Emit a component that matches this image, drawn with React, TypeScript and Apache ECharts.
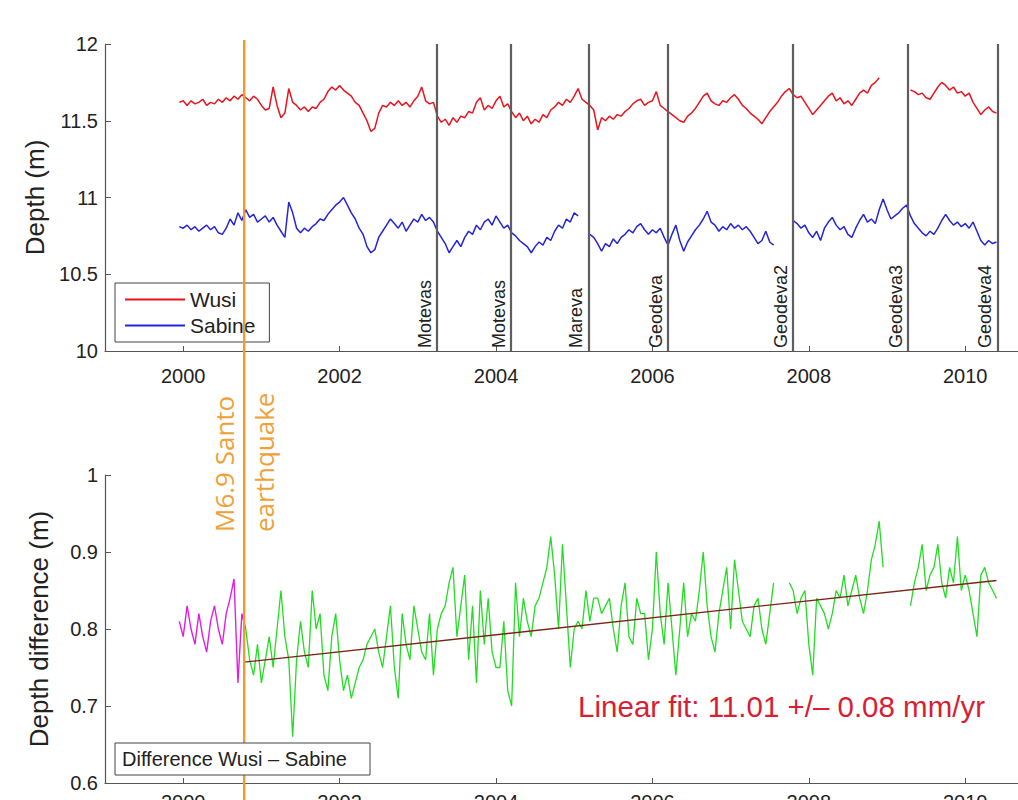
import React, { useEffect, useRef } from "react";
import * as echarts from "echarts";

// ---------- data ----------
const START = 1999.95;
const STEP = 0.05;

// Wusi water depth (m), every 0.05 yr from 1999.95 to 2010.40
const wusi = [
  11.62, 11.63,
  11.60, 11.63, 11.61, 11.62, 11.64, 11.60, 11.62, 11.61, 11.64, 11.62, 11.65, 11.63, 11.66, 11.64, 11.67, 11.65, 11.63, 11.66, 11.64,
  11.60, 11.57, 11.58, 11.72, 11.60, 11.52, 11.55, 11.71, 11.62, 11.60, 11.57, 11.59, 11.56, 11.59, 11.58, 11.62, 11.64, 11.69, 11.72, 11.70,
  11.73, 11.70, 11.68, 11.66, 11.62, 11.60, 11.55, 11.50, 11.43, 11.45, 11.55, 11.60, 11.59, 11.62, 11.60, 11.63, 11.60, 11.62, 11.59, 11.63,
  11.66, 11.72, 11.63, 11.61, 11.62, 11.53, 11.49, 11.51, 11.47, 11.52, 11.49, 11.53, 11.52, 11.56, 11.55, 11.62, 11.65, 11.57, 11.60, 11.58,
  11.63, 11.66, 11.59, 11.61, 11.56, 11.52, 11.55, 11.50, 11.53, 11.48, 11.51, 11.49, 11.54, 11.52, 11.57, 11.59, 11.62, 11.60, 11.64, 11.62,
  11.66, 11.71, 11.64, 11.62, 11.60, 11.57, 11.44, 11.52, 11.50, 11.53, 11.51, 11.54, 11.53, 11.56, 11.58, 11.61, 11.63, 11.64, 11.60, 11.62,
  11.63, 11.69, 11.60, 11.58, 11.56, 11.54, 11.52, 11.50, 11.49, 11.53, 11.55, 11.58, 11.62, 11.66, 11.68, 11.63, 11.61, 11.60, 11.63, 11.62,
  11.65, 11.67, 11.64, 11.60, 11.58, 11.55, 11.53, 11.51, 11.48, 11.52, 11.56, 11.59, 11.62, 11.66, 11.69, 11.71, 11.67, 11.65, 11.66, 11.62,
  11.58, 11.54, 11.57, 11.60, 11.63, 11.66, 11.68, 11.63, 11.65, 11.61, 11.63, 11.60, 11.64, 11.68, 11.70, 11.68, 11.73, 11.75, 11.78, null,
  null, null, null, null, null, null, 11.70, 11.69, 11.67, 11.68, 11.65, 11.64, 11.68, 11.72, 11.75, 11.73, 11.70, 11.72, 11.68, 11.69,
  11.66, 11.68, 11.62, 11.58, 11.54, 11.57, 11.59, 11.56, 11.55,
];

// Sabine water depth (m), same time steps
const sabine = [
  10.81, 10.80,
  10.82, 10.79, 10.81, 10.78, 10.80, 10.82, 10.79, 10.81, 10.77, 10.76, 10.80, 10.86, 10.82, 10.90, 10.85, 10.92, 10.87, 10.89, 10.84,
  10.86, 10.88, 10.84, 10.87, 10.82, 10.78, 10.74, 10.97, 10.90, 10.80, 10.77, 10.80, 10.78, 10.81, 10.83, 10.86, 10.85, 10.89, 10.92, 10.95,
  10.97, 11.00, 10.95, 10.90, 10.86, 10.80, 10.76, 10.68, 10.64, 10.66, 10.74, 10.78, 10.82, 10.86, 10.83, 10.80, 10.84, 10.78, 10.82, 10.86,
  10.84, 10.89, 10.85, 10.87, 10.84, 10.78, 10.74, 10.70, 10.64, 10.68, 10.72, 10.68, 10.74, 10.78, 10.76, 10.82, 10.79, 10.84, 10.86, 10.82,
  10.88, 10.84, 10.80, 10.82, 10.77, 10.75, 10.72, 10.70, 10.68, 10.64, 10.68, 10.71, 10.69, 10.74, 10.72, 10.78, 10.82, 10.80, 10.86, 10.84,
  10.90, 10.88, null, null, 10.76, 10.74, 10.70, 10.65, 10.70, 10.68, 10.73, 10.70, 10.74, 10.76, 10.79, 10.77, 10.81, 10.83, 10.79, 10.76,
  10.79, 10.77, 10.80, 10.74, 10.69, 10.76, 10.82, 10.72, 10.65, 10.71, 10.75, 10.79, 10.82, 10.86, 10.91, 10.84, 10.82, 10.78, 10.81, 10.79,
  10.83, 10.80, 10.82, 10.79, 10.81, 10.78, 10.74, 10.70, 10.72, 10.78, 10.71, 10.69, null, null, null, null, 10.85, 10.83, 10.80, 10.82,
  10.77, 10.74, 10.78, 10.72, 10.80, 10.84, 10.87, 10.82, 10.79, 10.81, 10.76, 10.74, 10.80, 10.85, 10.89, 10.84, 10.86, 10.83, 10.92, 10.99,
  10.92, 10.86, 10.88, 10.90, 10.93, 10.95, 10.88, 10.83, 10.80, 10.77, 10.75, 10.78, 10.76, 10.80, 10.85, 10.89, 10.85, 10.82, 10.84, 10.81,
  10.83, 10.80, 10.84, 10.78, 10.72, 10.69, 10.72, 10.70, 10.71,
];

// Difference Wusi - Sabine (m) before the earthquake, from 1999.95 to 2000.80
const diffBefore = [
  0.81, 0.79, 0.83, 0.80, 0.78, 0.82, 0.79, 0.77, 0.81, 0.83, 0.80, 0.78, 0.82, 0.84, 0.865, 0.73, 0.82, 0.80,
];

// Difference after the earthquake, from 2000.80 to 2010.40
const AFTER_START = 2000.8;
const diffAfter = [
  0.80, 0.76, 0.74, 0.78, 0.73, 0.76, 0.79, 0.75, 0.80, 0.85, 0.79, 0.76, 0.66, 0.76, 0.81, 0.77, 0.75, 0.85, 0.80, 0.82,
  0.74, 0.72, 0.79, 0.82, 0.76, 0.72, 0.74, 0.71, 0.73, 0.75, 0.76, 0.78, 0.79, 0.80, 0.77, 0.75, 0.79, 0.83, 0.75, 0.71,
  0.82, 0.78, 0.76, 0.83, 0.80, 0.77, 0.76, 0.82, 0.74, 0.80, 0.82, 0.83, 0.86, 0.88, 0.79, 0.83, 0.87, 0.76, 0.83, 0.73,
  0.85, 0.78, 0.84, 0.77, 0.75, 0.75, 0.81, 0.72, 0.70, 0.86, 0.79, 0.84, 0.81, 0.79, 0.83, 0.84, 0.86, 0.88, 0.92, 0.87,
  0.80, 0.91, 0.83, 0.75, 0.80, 0.81, 0.80, 0.85, 0.81, 0.84, 0.84, 0.82, 0.83, 0.84, 0.80, 0.77, 0.83, 0.86, 0.79, 0.78,
  0.84, 0.82, 0.82, 0.76, 0.80, 0.90, 0.82, 0.78, 0.86, 0.80, 0.74, 0.80, 0.86, 0.79, 0.82, 0.81, 0.85, 0.90, 0.83, 0.79,
  0.77, 0.82, 0.85, 0.88, 0.80, 0.89, 0.85, 0.81, 0.80, 0.79, 0.83, 0.84, 0.80, 0.78, 0.82, 0.86, null, null, null, 0.86,
  0.85, 0.82, 0.84, 0.85, 0.78, 0.74, 0.84, 0.83, 0.82, 0.80, 0.82, 0.85, 0.84, 0.87, 0.83, 0.85, 0.87, 0.84, 0.82, 0.85,
  0.89, 0.91, 0.94, 0.88, null, null, null, null, null, null, 0.83, 0.86, 0.88, 0.91, 0.85, 0.87, 0.88, 0.91, 0.86, 0.84,
  0.88, 0.86, 0.92, 0.85, 0.87, 0.85, 0.82, 0.79, 0.87, 0.88, 0.86, 0.85, 0.84,
];

// Linear fit end points
const fitYears = [2000.78, 2010.4];
const fitValues = [0.757, 0.863];

const quakeYear = 2000.78;
const instrumentYears = [2003.24, 2004.19, 2005.18, 2006.2, 2007.8, 2009.27, 2010.41];
const instrumentLabels = ["Motevas", "Motevas", "Mareva", "Geodeva", "Geodeva2", "Geodeva3", "Geodeva4"];

const xTickValues = [2000, 2002, 2004, 2006, 2008, 2010];
const topYTicks = { min: 10, max: 12, interval: 0.5 };
const bottomYTicks = { min: 0.6, max: 1, interval: 0.1 };

const FONT = "'Liberation Sans', Arial, Helvetica, sans-serif";
const ANNOT_FONT = "'Open Sans', 'Liberation Sans', sans-serif";

function toPairs(start: number, values: (number | null)[]) {
  return values.map((v, i) => [+(start + i * STEP).toFixed(2), v]);
}

export default function App() {
  const ref = useRef<HTMLDivElement>(null);

  useEffect(() => {
    if (!ref.current) return;
    const chart = echarts.init(ref.current, null, { renderer: "svg" });

    const axisColor = "#555";
    const xAxisBase = (gridIndex: number, margin: number) => ({
      type: "value" as const,
      gridIndex,
      min: 1999,
      max: 2010.675,
      axisLine: { show: true, lineStyle: { color: axisColor, width: 1.2 } },
      axisTick: { show: true, inside: true, length: 5, customValues: xTickValues, lineStyle: { color: axisColor } },
      axisLabel: {
        customValues: xTickValues,
        formatter: (v: number) => String(Math.round(v)),
        fontSize: 20,
        color: "#222",
        fontFamily: FONT,
        margin,
      },
      splitLine: { show: false },
    });

    const yAxisBase = (gridIndex: number, ticks: any, name: string, nameGap: number) => ({
      type: "value" as const,
      gridIndex,
      min: ticks.min,
      max: ticks.max,
      interval: ticks.interval,
      name,
      nameLocation: "middle" as const,
      nameGap,
      nameTextStyle: { fontSize: 26, color: "#222", fontFamily: FONT },
      axisLine: { show: true, lineStyle: { color: axisColor, width: 1.2 } },
      axisTick: { show: true, inside: true, length: 6, lineStyle: { color: axisColor } },
      axisLabel: { fontSize: 20, color: "#222", fontFamily: FONT, margin: 7 },
      splitLine: { show: false },
    });

    const option: any = {
      animation: false,
      backgroundColor: "#fff",
      textStyle: { fontFamily: FONT },
      grid: [
        { left: 105, top: 44, width: 913, height: 307, outerBoundsMode: "none", containLabel: false },
        { left: 105, top: 475, width: 913, height: 308, outerBoundsMode: "none", containLabel: false },
      ],
      xAxis: [xAxisBase(0, 15), xAxisBase(1, 9)],
      yAxis: [
        yAxisBase(0, topYTicks, "Depth (m)", 53),
        yAxisBase(1, bottomYTicks, "Depth difference (m)", 53),
      ],
      legend: {
        data: ["Wusi", "Sabine"],
        orient: "vertical",
        left: 115,
        top: 283,
        padding: [6, 14, 6, 10],
        itemGap: 5,
        itemWidth: 60,
        itemHeight: 2,
        icon: "rect",
        backgroundColor: "#fff",
        borderColor: "#444",
        borderWidth: 1,
        borderRadius: 0,
        textStyle: { fontSize: 21, color: "#222", fontFamily: FONT },
      },
      series: [
        {
          name: "Wusi",
          type: "line",
          xAxisIndex: 0,
          yAxisIndex: 0,
          data: toPairs(START, wusi),
          symbol: "none",
          connectNulls: false,
          lineStyle: { color: "#e8141e", width: 1.5 },
          itemStyle: { color: "#e8141e" },
          markLine: {
            silent: true,
            symbol: "none",
            lineStyle: { color: "#5e5e5e", width: 2.2, type: "solid" },
            label: {
              show: true,
              position: "insideStartTop",
              distance: 3,
              fontSize: 18,
              color: "#222",
              fontFamily: FONT,
              formatter: (p: any) => p.name,
            },
            data: instrumentYears.map((yr, i) => ({ xAxis: yr, name: instrumentLabels[i] })),
          },
        },
        {
          name: "Sabine",
          type: "line",
          xAxisIndex: 0,
          yAxisIndex: 0,
          data: toPairs(START, sabine),
          symbol: "none",
          connectNulls: false,
          lineStyle: { color: "#2424d8", width: 1.5 },
          itemStyle: { color: "#2424d8" },
        },
        {
          name: "Difference before",
          type: "line",
          xAxisIndex: 1,
          yAxisIndex: 1,
          data: toPairs(START, diffBefore),
          symbol: "none",
          lineStyle: { color: "#e020e0", width: 1.4 },
        },
        {
          name: "Difference Wusi – Sabine",
          type: "line",
          xAxisIndex: 1,
          yAxisIndex: 1,
          data: toPairs(AFTER_START, diffAfter),
          symbol: "none",
          connectNulls: false,
          lineStyle: { color: "#22dd22", width: 1.3 },
        },
        {
          name: "Linear fit",
          type: "line",
          xAxisIndex: 1,
          yAxisIndex: 1,
          data: fitYears.map((x, i) => [x, fitValues[i]]),
          symbol: "none",
          z: 5,
          lineStyle: { color: "#7a2418", width: 1.3 },
        },
      ],
    };

    chart.setOption(option);

    const qx = chart.convertToPixel({ xAxisIndex: 0 }, quakeYear) as number;
    const fitLabelX = chart.convertToPixel({ xAxisIndex: 1 }, 2005.05) as number;
    const fitLabelY = chart.convertToPixel({ yAxisIndex: 1 }, 0.699) as number;

    chart.setOption({
      graphic: [
        {
          type: "line",
          z: 10,
          silent: true,
          shape: { x1: qx, y1: 40, x2: qx, y2: 800 },
          style: { stroke: "#f39a2c", lineWidth: 2.4 },
        },
        {
          type: "text",
          z: 11,
          x: qx - 20,
          y: 532,
          rotation: Math.PI / 2,
          style: {
            text: "M6.9 Santo",
            fill: "#f0a038",
            fontSize: 26,
            fontFamily: ANNOT_FONT,
            align: "left",
            verticalAlign: "middle",
          },
        },
        {
          type: "text",
          z: 11,
          x: qx + 20,
          y: 532,
          rotation: Math.PI / 2,
          style: {
            text: "earthquake",
            fill: "#f0a038",
            fontSize: 26,
            fontFamily: ANNOT_FONT,
            align: "left",
            verticalAlign: "middle",
          },
        },
        {
          type: "text",
          z: 11,
          x: fitLabelX,
          y: fitLabelY,
          style: {
            text: "Linear fit: 11.01 +/\u2013 0.08 mm/yr",
            fill: "#d81e32",
            fontSize: 29.5,
            fontFamily: FONT,
            align: "left",
            verticalAlign: "middle",
          },
        },
        {
          type: "rect",
          z: 12,
          shape: { x: 115, y: 743, width: 255, height: 32 },
          style: { fill: "#fff", stroke: "#444", lineWidth: 1 },
        },
        {
          type: "text",
          z: 13,
          x: 122,
          y: 759,
          style: {
            text: "Difference Wusi \u2013 Sabine",
            fill: "#222",
            fontSize: 20,
            fontFamily: FONT,
            align: "left",
            verticalAlign: "middle",
          },
        },
      ],
    });

    return () => chart.dispose();
  }, []);

  return (
    <div
      ref={ref}
      style={{ position: "fixed", left: 0, top: 0, width: 1018, height: 800, background: "#fff" }}
    />
  );
}
